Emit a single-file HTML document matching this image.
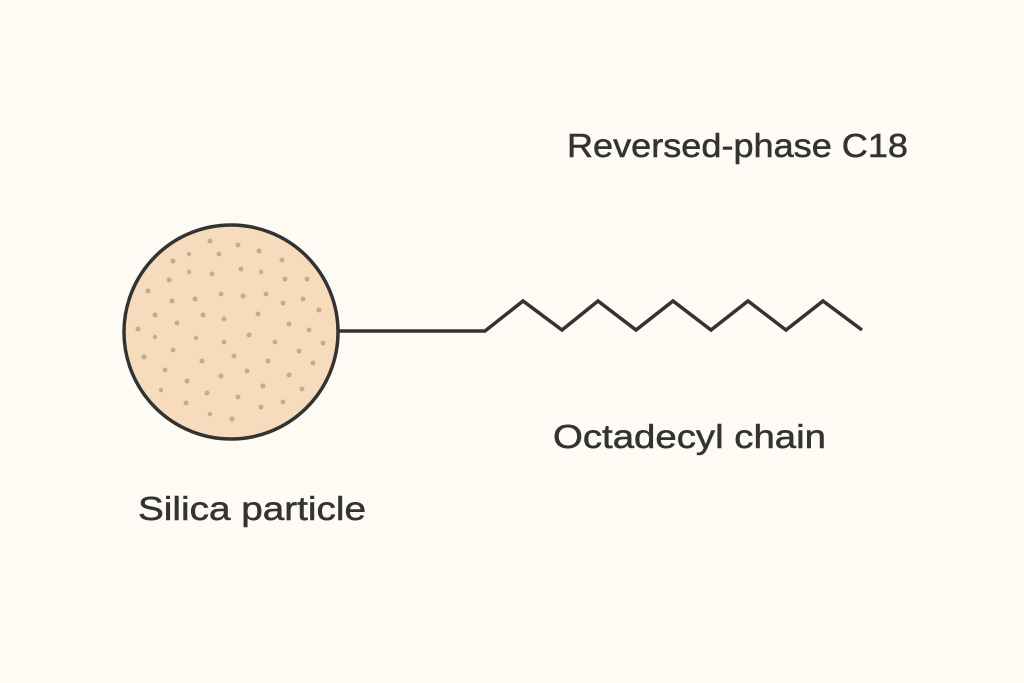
<!DOCTYPE html>
<html><head><meta charset="utf-8"><style>
html,body{margin:0;padding:0;background:#fdfbf3;}
svg{display:block}
text{font-family:"Liberation Sans",sans-serif;fill:#333;stroke:#333;stroke-width:0.5;}
</style></head><body>
<svg width="1024" height="683" viewBox="0 0 1024 683" xmlns="http://www.w3.org/2000/svg">
<rect width="1024" height="683" fill="#fdfbf3"/>
<circle cx="231" cy="332" r="107" fill="#f6dcbc" stroke="#333" stroke-width="3.5"/>
<g fill="#c9ab8c">
<circle cx="210" cy="241" r="2.5"/><circle cx="238" cy="245" r="2.5"/><circle cx="259" cy="251" r="2.5"/><circle cx="189" cy="254" r="2.2"/><circle cx="219" cy="254" r="2.5"/><circle cx="173" cy="261" r="2.5"/><circle cx="282" cy="260" r="2.5"/><circle cx="189" cy="272" r="2.2"/><circle cx="212" cy="274" r="2.5"/><circle cx="241" cy="269" r="2.5"/><circle cx="261" cy="272" r="2.2"/><circle cx="285" cy="279" r="2.5"/><circle cx="307" cy="279" r="2.5"/><circle cx="169" cy="280" r="2.5"/><circle cx="148" cy="291" r="2.5"/><circle cx="172" cy="301" r="2.5"/><circle cx="195" cy="299" r="2.5"/><circle cx="221" cy="294" r="2.5"/><circle cx="243" cy="296" r="2.5"/><circle cx="266" cy="294" r="2.5"/><circle cx="283" cy="303" r="2.5"/><circle cx="303" cy="299" r="2.5"/><circle cx="319" cy="310" r="2.5"/><circle cx="155" cy="315" r="2.5"/><circle cx="203" cy="315" r="2.5"/><circle cx="224" cy="319" r="2.5"/><circle cx="258" cy="314" r="2.5"/><circle cx="177" cy="323" r="2.5"/><circle cx="289" cy="324" r="2.5"/><circle cx="309" cy="330" r="2.5"/><circle cx="138" cy="329" r="2.5"/><circle cx="155" cy="337" r="2.2"/><circle cx="196" cy="338" r="2.2"/><circle cx="249" cy="335" r="2.5"/><circle cx="224" cy="342" r="2.5"/><circle cx="275" cy="342" r="2.5"/><circle cx="323" cy="343" r="2.5"/><circle cx="173" cy="350" r="2.5"/><circle cx="299" cy="351" r="2.5"/><circle cx="144" cy="357" r="2.5"/><circle cx="234" cy="356" r="2.5"/><circle cx="202" cy="361" r="2.5"/><circle cx="268" cy="361" r="2.5"/><circle cx="313" cy="363" r="2.5"/><circle cx="165" cy="370" r="2.5"/><circle cx="247" cy="371" r="2.5"/><circle cx="221" cy="376" r="2.5"/><circle cx="289" cy="375" r="2.5"/><circle cx="187" cy="381" r="2.5"/><circle cx="263" cy="386" r="2.5"/><circle cx="161" cy="390" r="2.2"/><circle cx="302" cy="389" r="2.5"/><circle cx="207" cy="393" r="2.5"/><circle cx="238" cy="397" r="2.5"/><circle cx="283" cy="402" r="2.5"/><circle cx="186" cy="403" r="2.5"/><circle cx="261" cy="407" r="2.5"/><circle cx="210" cy="414" r="2.2"/><circle cx="232" cy="419" r="2.5"/>
</g>
<polyline points="339,331 485,331 523,301 562,330 598,301 636,330 673,301 711,330 748,301 786,330 823,301 862,330" fill="none" stroke="#333" stroke-width="3.5" stroke-linejoin="miter"/>
<text x="567" y="157" font-size="33" textLength="341" lengthAdjust="spacingAndGlyphs">Reversed-phase C18</text>
<text x="553" y="448" font-size="33" textLength="273" lengthAdjust="spacingAndGlyphs">Octadecyl chain</text>
<text x="138" y="520" font-size="33" textLength="228" lengthAdjust="spacingAndGlyphs">Silica particle</text>
</svg>
</body></html>
